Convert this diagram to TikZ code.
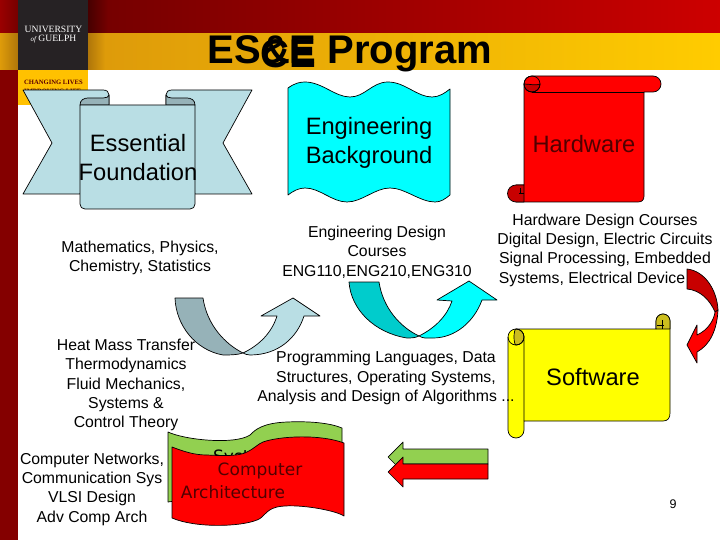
\documentclass[tikz,border=0pt]{standalone}
\usepackage{fontspec}
\setmainfont{Liberation Sans}
\newfontfamily\logofont{Liberation Serif}
\newfontfamily\wavefont{DejaVu Sans}
\definecolor{guelphred}{RGB}{118, 0, 0}
\definecolor{guelphbright}{RGB}{205, 0, 0}
\definecolor{guelphshadow}{RGB}{70, 0, 0}
\definecolor{guelphgold}{RGB}{255, 204, 0}
\definecolor{guelphbrown}{RGB}{222, 155, 10}
\definecolor{guelphdark}{RGB}{175, 118, 10}
\definecolor{logoblack}{RGB}{38, 34, 36}
\definecolor{plainred}{RGB}{255, 0, 0}
\definecolor{plaincyan}{RGB}{0, 255, 255}
\definecolor{plainyellow}{RGB}{255, 255, 0}
\definecolor{paleblue}{RGB}{185, 222, 228}
\definecolor{palefold}{RGB}{150, 178, 184}
\definecolor{tealfold}{RGB}{0, 204, 204}
\definecolor{softgreen}{RGB}{146, 208, 80}
\definecolor{olivefold}{RGB}{204, 190, 30}
\definecolor{redfold}{RGB}{200, 0, 0}
\definecolor{darkredtext}{RGB}{80, 0, 0}

\begin{document}
\begin{tikzpicture}[x=1pt, y=-1pt, >=latex,
			shape line/.style={draw=black, line width=0.7pt, line join=round},
			small text/.style={font=\fontsize{15.8}{19.3}\selectfont, align=center, inner sep=0pt, text=black},
			big text/.style={font=\fontsize{23.7}{29}\selectfont, align=center, inner sep=0pt, text=black},
			wave text/.style={font=\fontsize{17}{21}\wavefont, inner sep=0pt, text=darkredtext},
			title text/.style={font=\fontsize{40}{44}\selectfont\bfseries, inner sep=0pt, text=black}]
			\useasboundingbox (0,0) rectangle (720,540);
			\fill[white] (0,0) rectangle (720,540);
			%Hintergrund
			\shade[left color=guelphred, right color=guelphbright] (108,0) rectangle (720,34);
			\shade[left color=guelphshadow, right color=guelphred] (88,0) rectangle (108,34);
			\shade[left color=guelphbright!75!black, right color=guelphred] (0,0) rectangle (18,34);
			\shade[left color=guelphbrown, right color=guelphgold] (105,34) rectangle (720,70);
			\shade[left color=guelphdark, right color=guelphbrown] (88,34) rectangle (105,70);
			\shade[left color=guelphbrown, right color=guelphdark] (0,34) rectangle (18,70);
			\fill[guelphred!90!red] (0,70) rectangle (18,540);
			\fill[guelphgold!85!orange] (18,70) rectangle (88,105);
			\fill[logoblack] (18,0) rectangle (88,70);
			\node[font=\fontsize{9.6}{9}\logofont, align=center, text=white, inner sep=0pt] (logo) at (53.5,35) {UNIVERSITY\\\textit{\scriptsize of}\,GUELPH};
			\node[font=\fontsize{6.6}{9}\logofont\bfseries, text=guelphred!80!black, inner sep=0pt, anchor=west] (motto) at (24,82) {CHANGING LIVES};
			\node[font=\fontsize{6.6}{9}\logofont\bfseries, text=guelphred!80!black, inner sep=0pt, anchor=west] (mottotwo) at (24,91) {IMPROVING LIFE};
			% Titel
			\node[title text] (title) at (350,54) {ES\&E Program};
			\node[title text, anchor=east] (titlece) at (316,54) {CE};
			% Band
			\draw[shape line, fill=paleblue] (23,90) -- (103,90) .. controls (107,90) and (109,92) .. (109,95) -- (109,105) -- (80,194) -- (23,194) -- (52,143) -- cycle;
			\draw[shape line, fill=paleblue] (252,90) -- (172,90) .. controls (168,90) and (166,92) .. (166,95) -- (166,105) -- (195,194) -- (252,194) -- (223,143) -- cycle;
			\draw[shape line, fill=palefold] (80,105) .. controls (80,100) and (84,98) .. (88,98) -- (103,98) .. controls (106,98) and (109,97) .. (109,95) -- (109,105) -- cycle;
			\draw[shape line, fill=palefold] (195,105) .. controls (195,100) and (191,98) .. (187,98) -- (172,98) .. controls (169,98) and (166,97) .. (166,95) -- (166,105) -- cycle;
			\draw[shape line, fill=paleblue] (80,105) -- (195,105) -- (195,204) .. controls (195,207) and (193,209) .. (190,209) -- (85,209) .. controls (82,209) and (80,207) .. (80,204) -- cycle;
			\node[big text] (essential) at (138,158) {Essential\\Foundation};
			% Welle
			\draw[shape line, fill=plaincyan] (288,88) .. controls (295,83) and (300,82) .. (305,82) .. controls (322,82) and (335,97) .. (350,97) .. controls (365,97) and (372,82) .. (388,82) .. controls (405,82) and (417,97) .. (432,97) .. controls (439,97) and (445,93) .. (450,89) -- (450,195) .. controls (445,199) and (441,202) .. (435,202) .. controls (420,202) and (405,188) .. (390,188) .. controls (375,188) and (362,202) .. (347,202) .. controls (332,202) and (320,188) .. (305,188) .. controls (299,188) and (293,191) .. (288,195) -- cycle;
			\node[big text] (engineering) at (369,143) {Engineering\\Background};
			% Hardware
			\draw[shape line, fill=plainred] (524,84) .. controls (524,79) and (528,76) .. (532,76) -- (653,76) arc (270:450:8) -- (644,92) -- (644,196) .. controls (644,200) and (642,202) .. (638,202) -- (516,202) -- (516,185) -- (524,185) -- cycle;
			\draw[shape line] (532,92) -- (644,92);
			\draw[shape line, fill=redfold] (524,84) arc (180:0:8) .. controls (536,86) and (530,84) .. (524,84) -- cycle;
			\draw[shape line] (532,84) circle (8);
			\draw[shape line, fill=redfold] (524,185) -- (516,185) arc (270:90:8.5) -- (524,202) -- cycle;
			\draw[shape line] (524,193) -- (519,193) (520,188) -- (520,193);
			\node[big text, text=darkredtext] (hardware) at (584,144) {Hardware};
			% Software
			\draw[shape line, fill=plainyellow] (516,329) -- (656,329) -- (656,321) arc (180:360:7) -- (670,413) .. controls (670,418) and (668,421) .. (663,421) -- (524,421) -- (524,430) arc (0:180:8) -- (508,337) arc (180:270:8) -- cycle;
			\draw[shape line, fill=olivefold] (656,329) -- (656,321) arc (180:360:7) -- (670,329) -- cycle;
			\draw[shape line] (657,325) -- (664,325) (662,320) -- (662,329);
			\draw[shape line, fill=olivefold] (516,329) arc (270:450:8) arc (90:270:2 and 8) -- cycle;
			\draw[shape line] (508,337) arc (180:0:8) -- (524,421);
			\draw[shape line] (516,329) arc (270:360:8);
			\node[big text] (software) at (593,377) {Software};
			% Texte
			\node[small text] (math) at (140,258) {Mathematics, Physics,\\Chemistry, Statistics};
			\node[small text] (design) at (377,252) {Engineering Design\\Courses\\ENG110,ENG210,ENG310};
			\node[small text] (hwcourses) at (605,250) {Hardware Design Courses\\Digital Design, Electric Circuits\\Signal Processing, Embedded\\Systems, Electrical Device\hspace*{26pt}\mbox{}};
			\node[small text] (heat) at (126,385) {Heat Mass Transfer\\Thermodynamics\\Fluid Mechanics,\\Systems \&\\Control Theory};
			\node[small text] (prog) at (386,378) {Programming Languages, Data\\Structures, Operating Systems,\\Analysis and Design of Algorithms ...};
			\node[small text] (networks) at (92,489) {Computer Networks,\\Communication Sys\\VLSI Design\\Adv Comp Arch};
			% Pfeile
			\draw[shape line, fill=palefold] (175,298) -- (203,298) .. controls (207,325) and (225,344) .. (243,353) .. controls (237,355) and (230,355) .. (223,355) .. controls (195,350) and (176,325) .. (175,298) -- cycle;
			\draw[shape line, fill=paleblue] (243,353) .. controls (260,345) and (272,332) .. (277,316) -- (261,316) -- (293,298) -- (320,316) -- (304,316) .. controls (297,338) and (278,355) .. (250,355) .. controls (247,355) and (245,354) .. (243,353) -- cycle;
			\draw[shape line, fill=tealfold] (349,282) -- (379,282) .. controls (383,308) and (400,327) .. (419,336) .. controls (415,338) and (411,338) .. (407,338) .. controls (375,333) and (351,310) .. (349,282) -- cycle;
			\draw[shape line, fill=plaincyan] (419,336) .. controls (435,328) and (447,316) .. (452,301) -- (437,300) -- (469,281) -- (497,300) -- (482,300) .. controls (474,322) and (455,338) .. (433,338) -- (425,338) .. controls (423,338) and (421,337) .. (419,336) -- cycle;
			\draw[shape line, fill=redfold] (687,269) .. controls (705,271) and (717,290) .. (718,310) -- (715,312) .. controls (710,300) and (700,290) .. (687,289) -- cycle;
			\draw[shape line, fill=plainred] (718,310) .. controls (717,330) and (710,345) .. (697,352) -- (697,363) -- (687,345) -- (697,325) -- (697,335) .. controls (708,330) and (714,320) .. (715,312) -- cycle;
			\draw[shape line, fill=softgreen] (488,449) -- (403,449) -- (403,442) -- (388,457) -- (403,472) -- (403,464) -- (488,464) -- cycle;
			\draw[shape line, fill=plainred] (488,464) -- (403,464) -- (403,457) -- (388,472) -- (403,487) -- (403,479) -- (488,479) -- cycle;
			% Flaggen
			\draw[shape line, fill=softgreen] (168,432) .. controls (185,440) and (235,445) .. (250,435) .. controls (255,430) and (262,423) .. (287,422) .. controls (310,421) and (330,423) .. (342,428) -- (342,478) -- (168,502) -- cycle;
			\node[wave text, text=black, anchor=west] (systems) at (213,458) {Systems};
			\draw[shape line, fill=plainred] (172,447) .. controls (185,452) and (195,455) .. (207,455) .. controls (225,456) and (240,456) .. (247,452) .. controls (255,448) and (258,444) .. (263,442) .. controls (280,436) and (320,434) .. (344,443) -- (344,516) .. controls (335,510) and (295,503) .. (277,507) .. controls (265,510) and (265,517) .. (257,520) .. controls (240,527) and (195,528) .. (172,518) -- cycle;
			\node[wave text] (computer) at (260,471) {Computer};
			\node[wave text] (architecture) at (233,492) {Architecture};
			\node[font=\fontsize{12.5}{14}\selectfont, inner sep=0pt] (page) at (673,504) {9};
		\end{tikzpicture}
\end{document}
